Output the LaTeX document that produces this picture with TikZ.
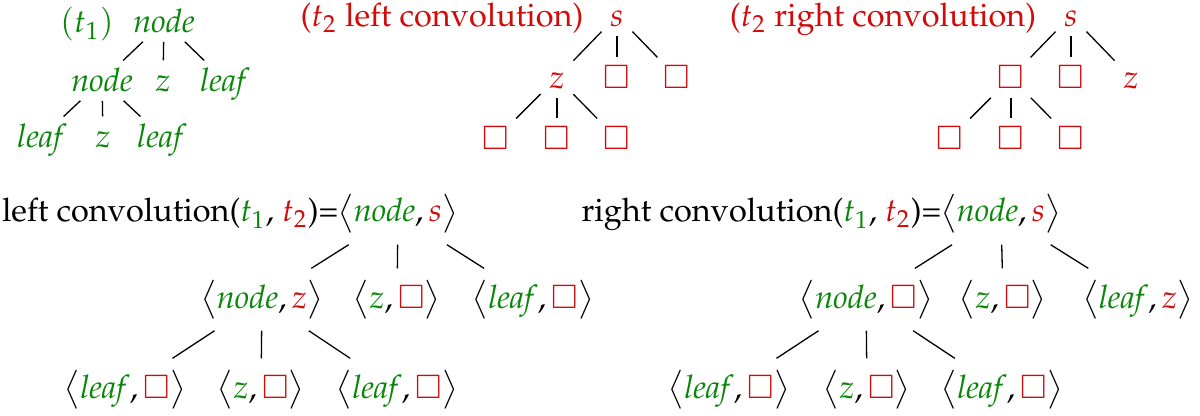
\documentclass[tikz,border=0pt]{standalone}
\usepackage[T1]{fontenc}
\usepackage{mathpazo}
\usepackage{amsmath,amssymb}
\usepackage{tikz}
\usepackage{xcolor}
\definecolor{tgreen}{RGB}{10,135,10}
\definecolor{tred}{RGB}{210,10,10}
\newcommand{\tgr}[1]{\textcolor{tgreen}{#1}}
\newcommand{\trd}[1]{\textcolor{tred}{#1}}
\newcommand{\hole}{\trd{\square}}
\newcommand{\pair}[2]{$\bigl\langle #1, #2\bigr\rangle$}

\begin{document}
\begin{tikzpicture}[x=0.3077pt,y=-0.3077pt,
  tn/.style={anchor=base,inner sep=2.5pt,text height=7pt,text depth=0pt},
  pn/.style={anchor=base,inner sep=3.5pt,text height=8.5pt,text depth=3.3pt},
  lbl/.style={inner sep=0pt}]
\useasboundingbox (0,0) rectangle (1200,416);
% t1
\node[lbl,anchor=base,text=tgreen] (t1lbl) at (87,33) {$(t_1)$};
\node[tn] (ta) at (164,33) {\tgr{$\mathit{node}$}};
\node[tn] (tb) at (102,92) {\tgr{$\mathit{node}$}};
\node[tn] (tc) at (163,92) {\tgr{$z$}};
\node[tn] (td) at (225,92) {\tgr{$\mathit{leaf}$}};
\node[tn] (te) at (42,148) {\tgr{$\mathit{leaf}$}};
\node[tn] (tf) at (103,148) {\tgr{$z$}};
\node[tn] (tg) at (162,148) {\tgr{$\mathit{leaf}$}};
% t2, left convolution
\node[lbl,anchor=base,text=tred] (llbl) at (442,27) {($t_2$ left convolution)};
\node[tn] (la) at (617,27) {\trd{$s$}};
\node[tn] (lb) at (557,89) {\trd{$z$}};
\node[tn] (lc) at (617,89) {$\hole$};
\node[tn] (ld) at (677,89) {$\hole$};
\node[tn] (le) at (496,150) {$\hole$};
\node[tn] (lf) at (557,150) {$\hole$};
\node[tn] (lg) at (617,150) {$\hole$};
% t2, right convolution
\node[lbl,anchor=base,text=tred] (rlbl) at (883,27) {($t_2$ right convolution)};
\node[tn] (ra) at (1071,27) {\trd{$s$}};
\node[tn] (rb) at (1011,89) {$\hole$};
\node[tn] (rc) at (1071,89) {$\hole$};
\node[tn] (rd) at (1131,89) {\trd{$z$}};
\node[tn] (re) at (950,150) {$\hole$};
\node[tn] (rf) at (1011,150) {$\hole$};
\node[tn] (rg) at (1071,150) {$\hole$};
% left convolution(t1,t2)
\node[lbl,anchor=base east] (blbl) at (339,222) {left convolution(\tgr{$t_1$}, \trd{$t_2$})=};
\node[pn] (ba) at (398,222) {\pair{\tgr{\mathit{node}}}{\trd{s}}};
\node[pn] (bb) at (262,308) {\pair{\tgr{\mathit{node}}}{\trd{z}}};
\node[pn] (bc) at (397,308) {\pair{\tgr{z}}{\hole}};
\node[pn] (bd) at (533,308) {\pair{\tgr{\mathit{leaf}}}{\hole}};
\node[pn] (be) at (125,398) {\pair{\tgr{\mathit{leaf}}}{\hole}};
\node[pn] (bf) at (261,398) {\pair{\tgr{z}}{\hole}};
\node[pn] (bg) at (397,398) {\pair{\tgr{\mathit{leaf}}}{\hole}};
% right convolution(t1,t2)
\node[lbl,anchor=base east] (clbl) at (942,222) {right convolution(\tgr{$t_1$}, \trd{$t_2$})=};
\node[pn] (ca) at (1001,222) {\pair{\tgr{\mathit{node}}}{\trd{s}}};
\node[pn] (cb) at (866,308) {\pair{\tgr{\mathit{node}}}{\hole}};
\node[pn] (cc) at (1003,308) {\pair{\tgr{z}}{\hole}};
\node[pn] (cd) at (1138,308) {\pair{\tgr{\mathit{leaf}}}{\trd{z}}};
\node[pn] (ce) at (729,398) {\pair{\tgr{\mathit{leaf}}}{\hole}};
\node[pn] (cf) at (867,398) {\pair{\tgr{z}}{\hole}};
\node[pn] (cg) at (1002,398) {\pair{\tgr{\mathit{leaf}}}{\hole}};
% edges
\foreach \p/\c in {ta/tb,ta/tc,ta/td,tb/te,tb/tf,tb/tg,
                   la/lb,la/lc,la/ld,lb/le,lb/lf,lb/lg,
                   ra/rb,ra/rc,ra/rd,rb/re,rb/rf,rb/rg,
                   ba/bb,ba/bc,ba/bd,bb/be,bb/bf,bb/bg,
                   ca/cb,ca/cc,ca/cd,cb/ce,cb/cf,cb/cg}
  \draw (\p) -- (\c);
\end{tikzpicture}
\end{document}
